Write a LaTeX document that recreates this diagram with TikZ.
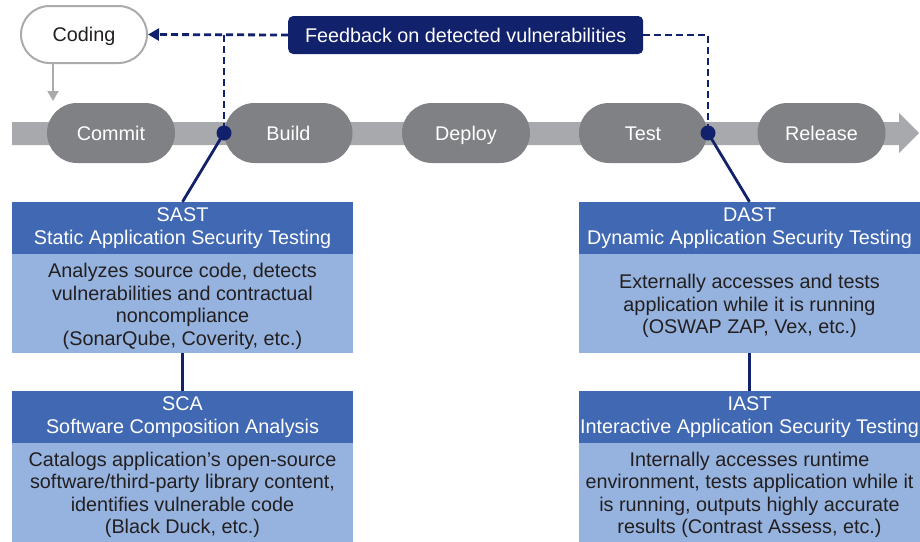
\documentclass[tikz,border=0pt]{standalone}
\usepackage{fontspec}
\setmainfont{Liberation Sans}
\usetikzlibrary{shapes.misc,arrows.meta}

\definecolor{navy}{HTML}{12216B}
\definecolor{pillgray}{HTML}{808184}
\definecolor{bandgray}{HTML}{A7A9AC}
\definecolor{codegray}{HTML}{ABABAB}
\definecolor{headblue}{HTML}{4169B3}
\definecolor{bodyblue}{HTML}{95B3DE}
\definecolor{textdark}{HTML}{231F20}

\newcommand{\lblfont}{\fontsize{19.8pt}{22.5pt}\selectfont}
% taller first line pushes the body text slightly down
\newcommand{\topstrut}{\rule{0pt}{20pt}}

\begin{document}
\begin{tikzpicture}[x=1pt,y=-1pt,
  pill/.style={rounded rectangle, fill=pillgray, text=white,
    minimum width=128pt, minimum height=60pt, inner sep=0pt, font=\lblfont,
    text height=14pt, text depth=0pt},
  codingpill/.style={rounded rectangle, draw=codegray, line width=2pt, fill=white,
    text=textdark, minimum width=126pt, minimum height=57pt, inner sep=0pt, font=\lblfont,
    text height=14pt, text depth=0pt},
  feedbox/.style={fill=navy, text=white, rounded corners=5pt,
    minimum width=355pt, minimum height=38pt, inner sep=0pt, font=\lblfont,
    text height=14pt, text depth=0pt},
  dot/.style={circle, fill=navy, minimum size=15pt, inner sep=0pt},
  headbox/.style={fill=headblue, text=white, minimum width=341pt, minimum height=52pt,
    inner sep=0pt, align=center, font=\lblfont},
  bodybox/.style={fill=bodyblue, text=textdark, minimum width=341pt, minimum height=99pt,
    inner sep=0pt, align=center, font=\lblfont},
  feedback/.style={draw=navy, line width=2.8pt, dash pattern=on 7pt off 4pt},
  link/.style={draw=navy, line width=2.8pt},
  grayarrow/.style={draw=codegray, line width=2pt, -{Triangle[length=10pt,width=11pt]}}
]
\useasboundingbox (0,0) rectangle (920,541);

% pipeline band with arrow head
\fill[bandgray] (12,122) -- (899,122) -- (899,113) -- (919,133) -- (899,153)
  -- (899,145) -- (12,145) -- cycle;

% pipeline stages
\node[pill] (commit)  at (111,133) {Commit};
\node[pill] (build)   at (288.5,133) {Build};
\node[pill] (deploy)  at (466,133) {Deploy};
\node[pill] (test)    at (643,133) {Test};
\node[pill] (release) at (821.5,133) {Release};

% coding step
\node[codingpill] (coding) at (84,34.5) {Coding};
\coordinate (cin) at (53,101);
\draw[grayarrow] (coding.south -| cin) -- (cin);

% feedback loop
\node[feedbox] (fb) at (465.7,35) {Feedback on detected vulnerabilities};
\node[dot] (d1) at (224,133) {};
\node[dot] (d2) at (708,133) {};
\draw[feedback, -{Triangle[length=11pt,width=12pt]}] (fb.west) -- (coding.east);
\draw[feedback] (d1 |- fb.west) -- (d1.center);
\draw[feedback] (fb.east) -| (d2.center);

% SAST / SCA
\node[headbox] (sasth) at (182.5,228) {SAST\\Static Application Security Testing};
\node[bodybox] (sastb) at (182.5,303.5) {\topstrut Analyzes source code, detects\\vulnerabilities and contractual\\noncompliance\\(SonarQube, Coverity, etc.)};
\node[headbox] (scah) at (182.5,417) {SCA\\Software Composition Analysis};
\node[bodybox] (scab) at (182.5,492) {\topstrut Catalogs application’s open-source\\software/third-party library content,\\identifies vulnerable code\\(Black Duck, etc.)};

% DAST / IAST
\node[headbox] (dasth) at (749.5,228) {DAST\\Dynamic Application Security Testing};
\node[bodybox] (dastb) at (749.5,303.5) {\topstrut Externally accesses and tests\\application while it is running\\(OSWAP ZAP, Vex, etc.)};
\node[headbox] (iasth) at (749.5,417) {IAST\\Interactive Application Security Testing};
\node[bodybox] (iastb) at (749.5,492) {\topstrut Internally accesses runtime\\environment, tests application while it\\is running, outputs highly accurate\\results (Contrast Assess, etc.)};

% connectors from pipeline to tools
\draw[link] (d1.center) -- (sasth.north);
\draw[link] (d2.center) -- (dasth.north);
\draw[link] (sastb.south) -- (scah.north);
\draw[link] (dastb.south) -- (iasth.north);
\end{tikzpicture}
\end{document}
